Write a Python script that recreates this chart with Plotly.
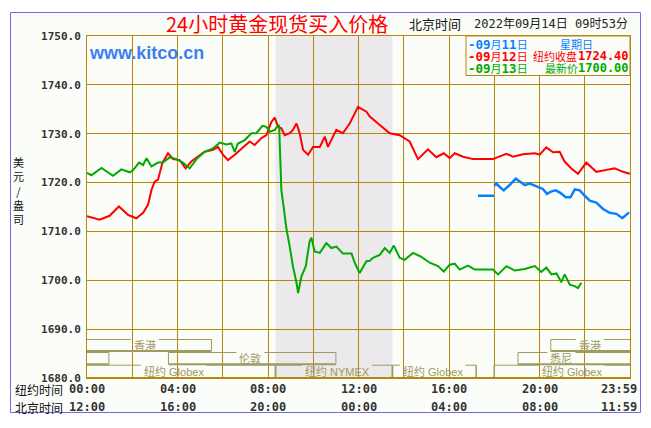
import plotly.graph_objects as go

# ---------------- data (hours after 00:00 New York time ; USD / oz) ----------------
red_t = [0.00,0.56,1.00,1.41,1.81,2.18,2.48,2.70,2.85,2.99,3.14,3.33,3.58,3.80,4.10,4.36,4.61,4.91,5.20,5.57,
         5.79,6.01,6.23,6.53,6.90,7.19,7.41,7.71,7.93,8.15,8.30,8.44,8.59,8.74,8.96,9.10,9.26,9.40,9.55,9.77,
         9.99,10.29,10.51,10.65,11.02,11.31,11.61,11.98,12.35,12.50,12.94,13.38,13.82,14.26,14.63,15.07,15.44,15.77,16.03,16.25,
         16.62,17.06,17.94,18.54,18.83,19.27,19.79,20.01,20.30,20.60,20.89,21.11,21.41,21.70,22.07,22.51,22.96,23.32,23.69,23.99]
red_v = [1713.1,1712.4,1713.2,1715.1,1713.4,1712.7,1713.8,1715.5,1718.5,1720.2,1720.6,1724.0,1726.0,1724.8,1724.6,1722.9,1724.3,1725.3,1726.3,1726.7,
         1727.3,1725.7,1724.6,1725.7,1727.3,1728.4,1727.7,1729.1,1729.7,1732.4,1733.3,1731.4,1731.1,1729.7,1730.1,1730.8,1732.1,1730.1,1726.7,1725.7,
         1727.3,1727.3,1729.4,1727.3,1730.8,1730.1,1732.1,1735.5,1734.5,1733.5,1731.8,1730.1,1729.7,1728.4,1724.8,1726.8,1725.2,1726.0,1725.0,1726.0,
         1725.3,1724.8,1724.8,1725.9,1725.3,1725.8,1726.0,1725.7,1727.2,1726.2,1726.3,1724.3,1722.9,1721.8,1724.1,1722.2,1722.6,1722.9,1722.2,1721.8]

green_t = [0.00,0.19,0.64,1.15,1.52,1.89,2.03,2.30,2.48,2.63,2.85,3.14,3.36,3.66,3.95,4.24,4.54,4.84,5.20,5.57,
           5.87,6.16,6.38,6.53,6.67,6.97,7.27,7.49,7.75,7.93,8.08,8.30,8.40,8.49,8.55,8.59,8.69,8.81,8.96,9.10,
           9.26,9.33,9.48,9.67,9.84,9.92,10.06,10.29,10.58,10.80,11.02,11.31,11.69,11.83,12.05,12.35,12.50,12.64,12.94,13.16,
           13.38,13.56,13.82,14.04,14.41,14.78,15.15,15.51,15.77,16.03,16.25,16.47,16.84,17.14,17.94,18.17,18.54,18.90,19.35,19.79,
           20.08,20.30,20.53,20.75,20.97,21.11,21.34,21.56,21.70,21.85]
green_v = [1722.0,1721.5,1723.0,1721.4,1722.7,1722.1,1722.5,1724.1,1723.6,1725.0,1723.3,1724.1,1724.1,1725.2,1724.8,1724.1,1722.9,1724.8,1726.3,1727.0,
           1728.2,1727.8,1728.0,1726.3,1728.0,1728.7,1730.1,1730.1,1731.6,1731.4,1730.4,1730.8,1731.4,1731.8,1724.0,1718.5,1715.1,1710.7,1706.9,1702.9,
           1699.5,1697.4,1700.8,1702.9,1708.0,1708.7,1705.9,1705.6,1707.6,1706.6,1706.9,1705.5,1705.5,1703.6,1701.5,1703.9,1704.0,1704.6,1705.2,1706.6,
           1705.6,1707.1,1704.6,1704.2,1705.6,1704.8,1703.6,1702.9,1701.8,1703.2,1703.4,1702.2,1703.0,1702.2,1702.2,1701.2,1702.9,1702.0,1702.3,1702.9,
           1701.7,1702.6,1701.2,1701.4,1699.6,1701.2,1699.1,1698.8,1698.4,1699.5]

blue_t = [17.28,17.99,None,18.00,18.10,18.24,18.42,18.68,18.95,19.13,19.35,19.57,19.79,20.01,20.15,20.33,20.53,20.72,20.92,21.16,
          21.37,21.56,21.78,22.00,22.22,22.51,22.81,23.10,23.40,23.66,23.84,23.96]
blue_v = [1717.3,1717.3,None,1719.4,1719.8,1719.1,1718.4,1719.5,1720.8,1720.2,1719.5,1719.8,1719.4,1719.1,1718.7,1717.7,1718.2,1718.4,1717.9,1717.0,
          1717.0,1718.6,1718.4,1717.3,1716.3,1715.9,1714.6,1713.8,1713.6,1712.7,1713.4,1713.9]

y_ticks = [1680, 1690, 1700, 1710, 1720, 1730, 1740, 1750]
x_tick_hours = [0, 4, 8, 12, 16, 20, 23.983]
ny_labels = ["00:00", "04:00", "08:00", "12:00", "16:00", "20:00", "23:59"]
bj_labels = ["12:00", "16:00", "20:00", "00:00", "04:00", "08:00", "11:59"]

legend_dates = ["-09月11日", "-09月12日", "-09月13日"]
legend_names = ["星期日", "纽约收盘", "最新价"]
legend_values = ["", "1724.40", "1700.00"]

nymex_hours = [8.333, 13.5]
# sessions: name, start hour, end hour, row
sessions = [
    ("香港", 0.0, 5.5, 1), ("香港", 20.5, 24.0, 1),
    ("", 0.0, 0.97, 2), ("伦敦", 3.6, 11.0, 2), ("悉尼", 19.05, 24.0, 2),
    ("纽约 Globex", 0.0, 8.333, 3), ("纽约 NYMEX", 8.333, 13.5, 3),
    ("纽约 Globex", 13.5, 17.2, 3), ("纽约 Globex", 18.0, 24.0, 3),
]
session_label_hours = [2.55, 22.22, None, 7.22, 20.97, 3.83, 11.05, 15.28, 21.43]

title_text = "24小时黄金现货买入价格"
time_caption = "北京时间"
time_stamp = "2022年09月14日 09时53分"

# ---------------- styles / geometry ----------------
OFF = 8                      # page body margin of the html page
W, H = 651 - OFF, 428 - OFF
L, R, T, B = 79, 21, 28, 50
PW, PH = W - L - R, H - T - B
BG = "#FBFDF9"
GRID = "#B8860B"
OLIVE = "#9E9A62"
SHADE = "#ECE9EC"
RED, GREEN, BLUE = "#FF0000", "#00AA00", "#0A80FF"
MONO = "DejaVu Sans Mono, Noto Sans CJK SC"
CJK = "Noto Sans CJK SC"
YMIN, YMAX = 1680, 1750


def xp(px):  # reference-picture pixel -> paper coordinate
    return (px - OFF - L) / PW


def yp(py):
    return (T + PH - (py - OFF)) / PH


def yval(py):
    return YMAX - (py - OFF - T) / PH * (YMAX - YMIN)


HPX = PW / 24.0


def is_cjk(ch):
    return ord(ch) > 0x2E80


def mixed(s, cjk_size):
    out, run, cur = "", "", None
    for ch in s + "\0":
        k = is_cjk(ch) if ch != "\0" else None
        if k != cur and run:
            if cur:
                out += '<span style="font-size:%dpx;font-family:Noto Sans CJK SC">%s</span>' % (cjk_size, run)
            else:
                out += "<b>" + run + "</b>"
            run = ""
        cur = k
        if ch != "\0":
            run += ch
    return out


fig = go.Figure()
for t, v, c, w in [(red_t, red_v, RED, 2), (green_t, green_v, GREEN, 2), (blue_t, blue_v, BLUE, 2.5)]:
    fig.add_trace(go.Scatter(x=t, y=v, mode="lines", line=dict(color=c, width=w),
                             hoverinfo="skip", showlegend=False, connectgaps=False))

shapes = []
shapes.append(dict(type="rect", xref="paper", yref="paper", layer="below",
                   x0=xp(10.5), x1=xp(640.5), y0=yp(412.5), y1=yp(12.5),
                   fillcolor=BG, line=dict(color="#6B6BF2", width=1)))
shapes.append(dict(type="rect", xref="x", yref="y", layer="below",
                   x0=nymex_hours[0], x1=nymex_hours[1], y0=YMIN, y1=YMAX,
                   fillcolor=SHADE, line=dict(width=0)))

rows = {1: (339.5, 351.0), 2: (352.5, 364.3), 3: (365.2, 378.0)}


def text_w(s):
    w = 0
    for ch in s:
        if is_cjk(ch):
            w += 11
        elif ch in "MNGXYE":
            w += 7.8
        elif ch == "l":
            w += 2.6
        elif ch == " ":
            w += 3.2
        else:
            w += 6.0
    return w


annotations = []
for (name, x0, x1, row), lh in zip(sessions, session_label_hours):
    top, bot = rows[row]
    ytop, ybot = yval(top), yval(bot)
    if name and lh is not None:
        g = (text_w(name) / 2 + 3) / HPX
        segs = [(x0, max(x0, lh - g)), (min(x1, lh + g), x1)]
        annotations.append(dict(xref="x", yref="paper", x=lh, y=yp((top + bot) / 2 + 0.3),
                                text=name, showarrow=False, xanchor="center", yanchor="middle",
                                font=dict(family="Liberation Sans, Noto Sans CJK SC", size=11, color=OLIVE)))
    else:
        segs = [(x0, x1)]
    for a, b in segs:
        if b > a:
            shapes.append(dict(type="line", xref="x", yref="y", x0=a, x1=b, y0=ytop, y1=ytop,
                               line=dict(color=OLIVE, width=1)))
    if row != 3:
        shapes.append(dict(type="line", xref="x", yref="y", x0=x0, x1=x1, y0=ybot, y1=ybot,
                           line=dict(color=OLIVE, width=2)))
    for xx in (x0, x1):
        if 0 < xx < 24:
            shapes.append(dict(type="line", xref="x", yref="y", x0=xx, x1=xx, y0=ytop, y1=ybot,
                               line=dict(color=OLIVE, width=1.5 if row == 3 else 1)))

shapes.append(dict(type="line", xref="x", yref="y", x0=0, x1=24, y0=YMIN, y1=YMIN,
                   line=dict(color=GRID, width=2)))
shapes.append(dict(type="rect", xref="paper", yref="paper", x0=xp(466), x1=1, y0=yp(75.5), y1=1,
                   fillcolor=BG, line=dict(color=GRID, width=1)))

leg_cols = [BLUE, RED, GREEN]
leg_y = [44.3, 56.0, 67.6]
name_x = [559, 531.5, 544]
for d, n, v, c, y, nx in zip(legend_dates, legend_names, legend_values, leg_cols, leg_y, name_x):
    annotations.append(dict(xref="paper", yref="paper", x=xp(467), y=yp(y), text=mixed(d, 11), showarrow=False,
                            xanchor="left", yanchor="middle", borderpad=0,
                            font=dict(family=MONO, size=12.5, color=c)))
    annotations.append(dict(xref="paper", yref="paper", x=xp(nx), y=yp(y), text=n, showarrow=False,
                            xanchor="left", yanchor="middle", borderpad=0,
                            font=dict(family=CJK, size=11, color=c)))
    if v:
        annotations.append(dict(xref="paper", yref="paper", x=xp(630), y=yp(y), text="<b>" + v + "</b>",
                                showarrow=False, xanchor="right", yanchor="middle", borderpad=0,
                                font=dict(family=MONO, size=12, color=c)))

annotations.append(dict(xref="paper", yref="paper", x=xp(277), y=yp(23.5), text=title_text, showarrow=False,
                        xanchor="center", yanchor="middle", font=dict(family=CJK, size=20, color="#FF0000")))
annotations.append(dict(xref="paper", yref="paper", x=xp(407), y=yp(24), text=time_caption, showarrow=False,
                        xanchor="left", yanchor="middle", font=dict(family=CJK, size=13, color="#111111")))
annotations.append(dict(xref="paper", yref="paper", x=xp(630), y=yp(24), text=time_stamp, showarrow=False,
                        xanchor="right", yanchor="middle", font=dict(family=MONO, size=12, color="#222222")))
annotations.append(dict(xref="paper", yref="paper", x=xp(87), y=yp(53), text="<b>www.kitco.cn</b>", showarrow=False,
                        xanchor="left", yanchor="middle",
                        font=dict(family="Liberation Sans, Arial", size=18, color="#3D7EF2")))
annotations.append(dict(xref="paper", yref="paper", x=xp(19), y=yp(190), text="美<br>元<br>/<br>盎<br>司",
                        showarrow=False, xanchor="center", yanchor="middle",
                        font=dict(family=CJK, size=11, color="#111111")))
for h, a, b in zip(x_tick_hours, ny_labels, bj_labels):
    shift = -11 if h > 23 else 0
    for txt, py in ((a, 389), (b, 407)):
        annotations.append(dict(xref="x", yref="paper", x=h, y=yp(py), text="<b>" + txt + "</b>",
                                showarrow=False, xanchor="center", yanchor="middle", xshift=shift,
                                font=dict(family=MONO, size=12, color="#333333")))
for txt, py in (("纽约时间", 389), ("北京时间", 407)):
    annotations.append(dict(xref="paper", yref="paper", x=xp(13), y=yp(py), text=txt, showarrow=False,
                            xanchor="left", yanchor="middle", font=dict(family=CJK, size=12, color="#111111")))

fig.update_layout(
    width=W, height=H, margin=dict(l=L, r=R, t=T, b=B),
    paper_bgcolor="#FFFFFF", plot_bgcolor=BG,
    shapes=shapes, annotations=annotations, showlegend=False,
    xaxis=dict(range=[0, 24], tick0=0, dtick=2, showgrid=True, gridcolor=GRID, gridwidth=1,
               showticklabels=False, ticks="", zeroline=False, showline=True, mirror=True,
               linecolor=GRID, linewidth=1, fixedrange=True),
    yaxis=dict(range=[YMIN, YMAX], tickvals=y_ticks, tickformat=".1f", showgrid=True, gridcolor=GRID,
               gridwidth=1, ticks="", zeroline=False, showline=True, mirror=True, linecolor=GRID,
               linewidth=1, fixedrange=True, ticklabelstandoff=3,
               tickfont=dict(family="DejaVu Sans Mono", size=11, color="#333333", weight="bold")),
)
fig.write_html("out.html")
